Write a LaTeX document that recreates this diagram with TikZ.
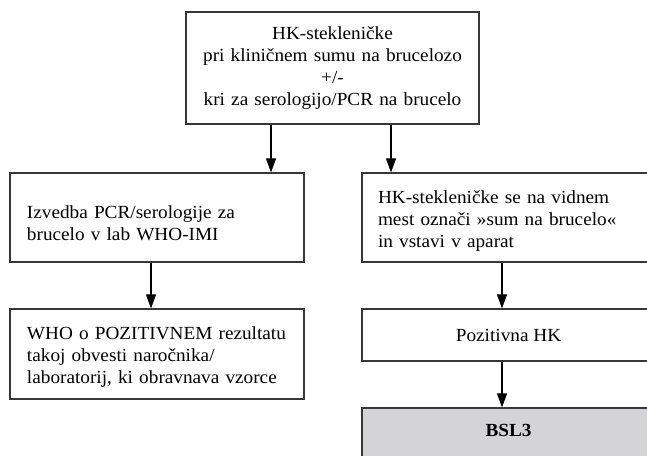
\documentclass[tikz,border=0pt]{standalone}
\usepackage{fontspec}
\setmainfont{Liberation Serif}[FakeStretch=1.04]
\usetikzlibrary{arrows.meta}
\definecolor{boxc}{RGB}{55,55,55}
\definecolor{bslfill}{RGB}{212,212,214}
\begin{document}
\begin{tikzpicture}[x=1pt,y=-1pt,
  box/.style={draw=boxc, line width=1.2pt, rectangle, inner xsep=17pt, inner ysep=0pt,
    font=\fontsize{18.5}{22}\selectfont},
  arr/.style={-{Triangle[length=14pt,width=10pt]}, line width=1.1pt, black}]
\useasboundingbox (0,0) rectangle (647,455);
\clip (0,0) rectangle (647,455);

\node[box, minimum width=293pt, minimum height=112pt, inner xsep=0pt, text width=293pt, align=center]
  (top) at (332.5,68) {\mbox{HK-stekleničke}\\\mbox{pri kliničnem sumu na brucelozo}\\+/-\\\mbox{kri za serologijo/PCR na brucelo}};

\node[box, minimum width=294pt, minimum height=89pt, text width=260pt, align=left]
  (izv) at (157,217.5) {\rule{0pt}{24pt}\mbox{Izvedba PCR/serologije za}\\\mbox{brucelo v lab WHO-IMI}};

\node[box, minimum width=293pt, minimum height=89pt, text width=261pt, inner xsep=16pt, align=left]
  (oznaci) at (508.5,217.5) {\rule{0pt}{19pt}\mbox{HK-stekleničke se na vidnem}\\\mbox{mest označi »sum na brucelo«}\\\mbox{in vstavi v aparat}};

\node[box, minimum width=294pt, minimum height=90pt, text width=260pt, align=left]
  (who) at (157,354) {\rule{0pt}{18pt}\mbox{WHO o POZITIVNEM rezultatu}\\\mbox{takoj obvesti naročnika/}\\\mbox{laboratorij, ki obravnava vzorce}};

\node[box, minimum width=293pt, minimum height=52pt]
  (poz) at (508.5,335) {Pozitivna HK};

\node[box, fill=bslfill, minimum width=293pt, minimum height=54pt, text depth=10pt]
  (bsl) at (508.5,435) {\bfseries BSL3};

\coordinate (xa) at (271,0);
\coordinate (xb) at (391,0);
\coordinate (xc) at (151,0);
\coordinate (xd) at (502,0);

\draw[arr] (xa |- top.south) -- (xa |- izv.north);
\draw[arr] (xb |- top.south) -- (xb |- oznaci.north);
\draw[arr] (xc |- izv.south) -- (xc |- who.north);
\draw[arr] (xd |- oznaci.south) -- (xd |- poz.north);
\draw[arr] (xd |- poz.south) -- (xd |- bsl.north);
\end{tikzpicture}
\end{document}
